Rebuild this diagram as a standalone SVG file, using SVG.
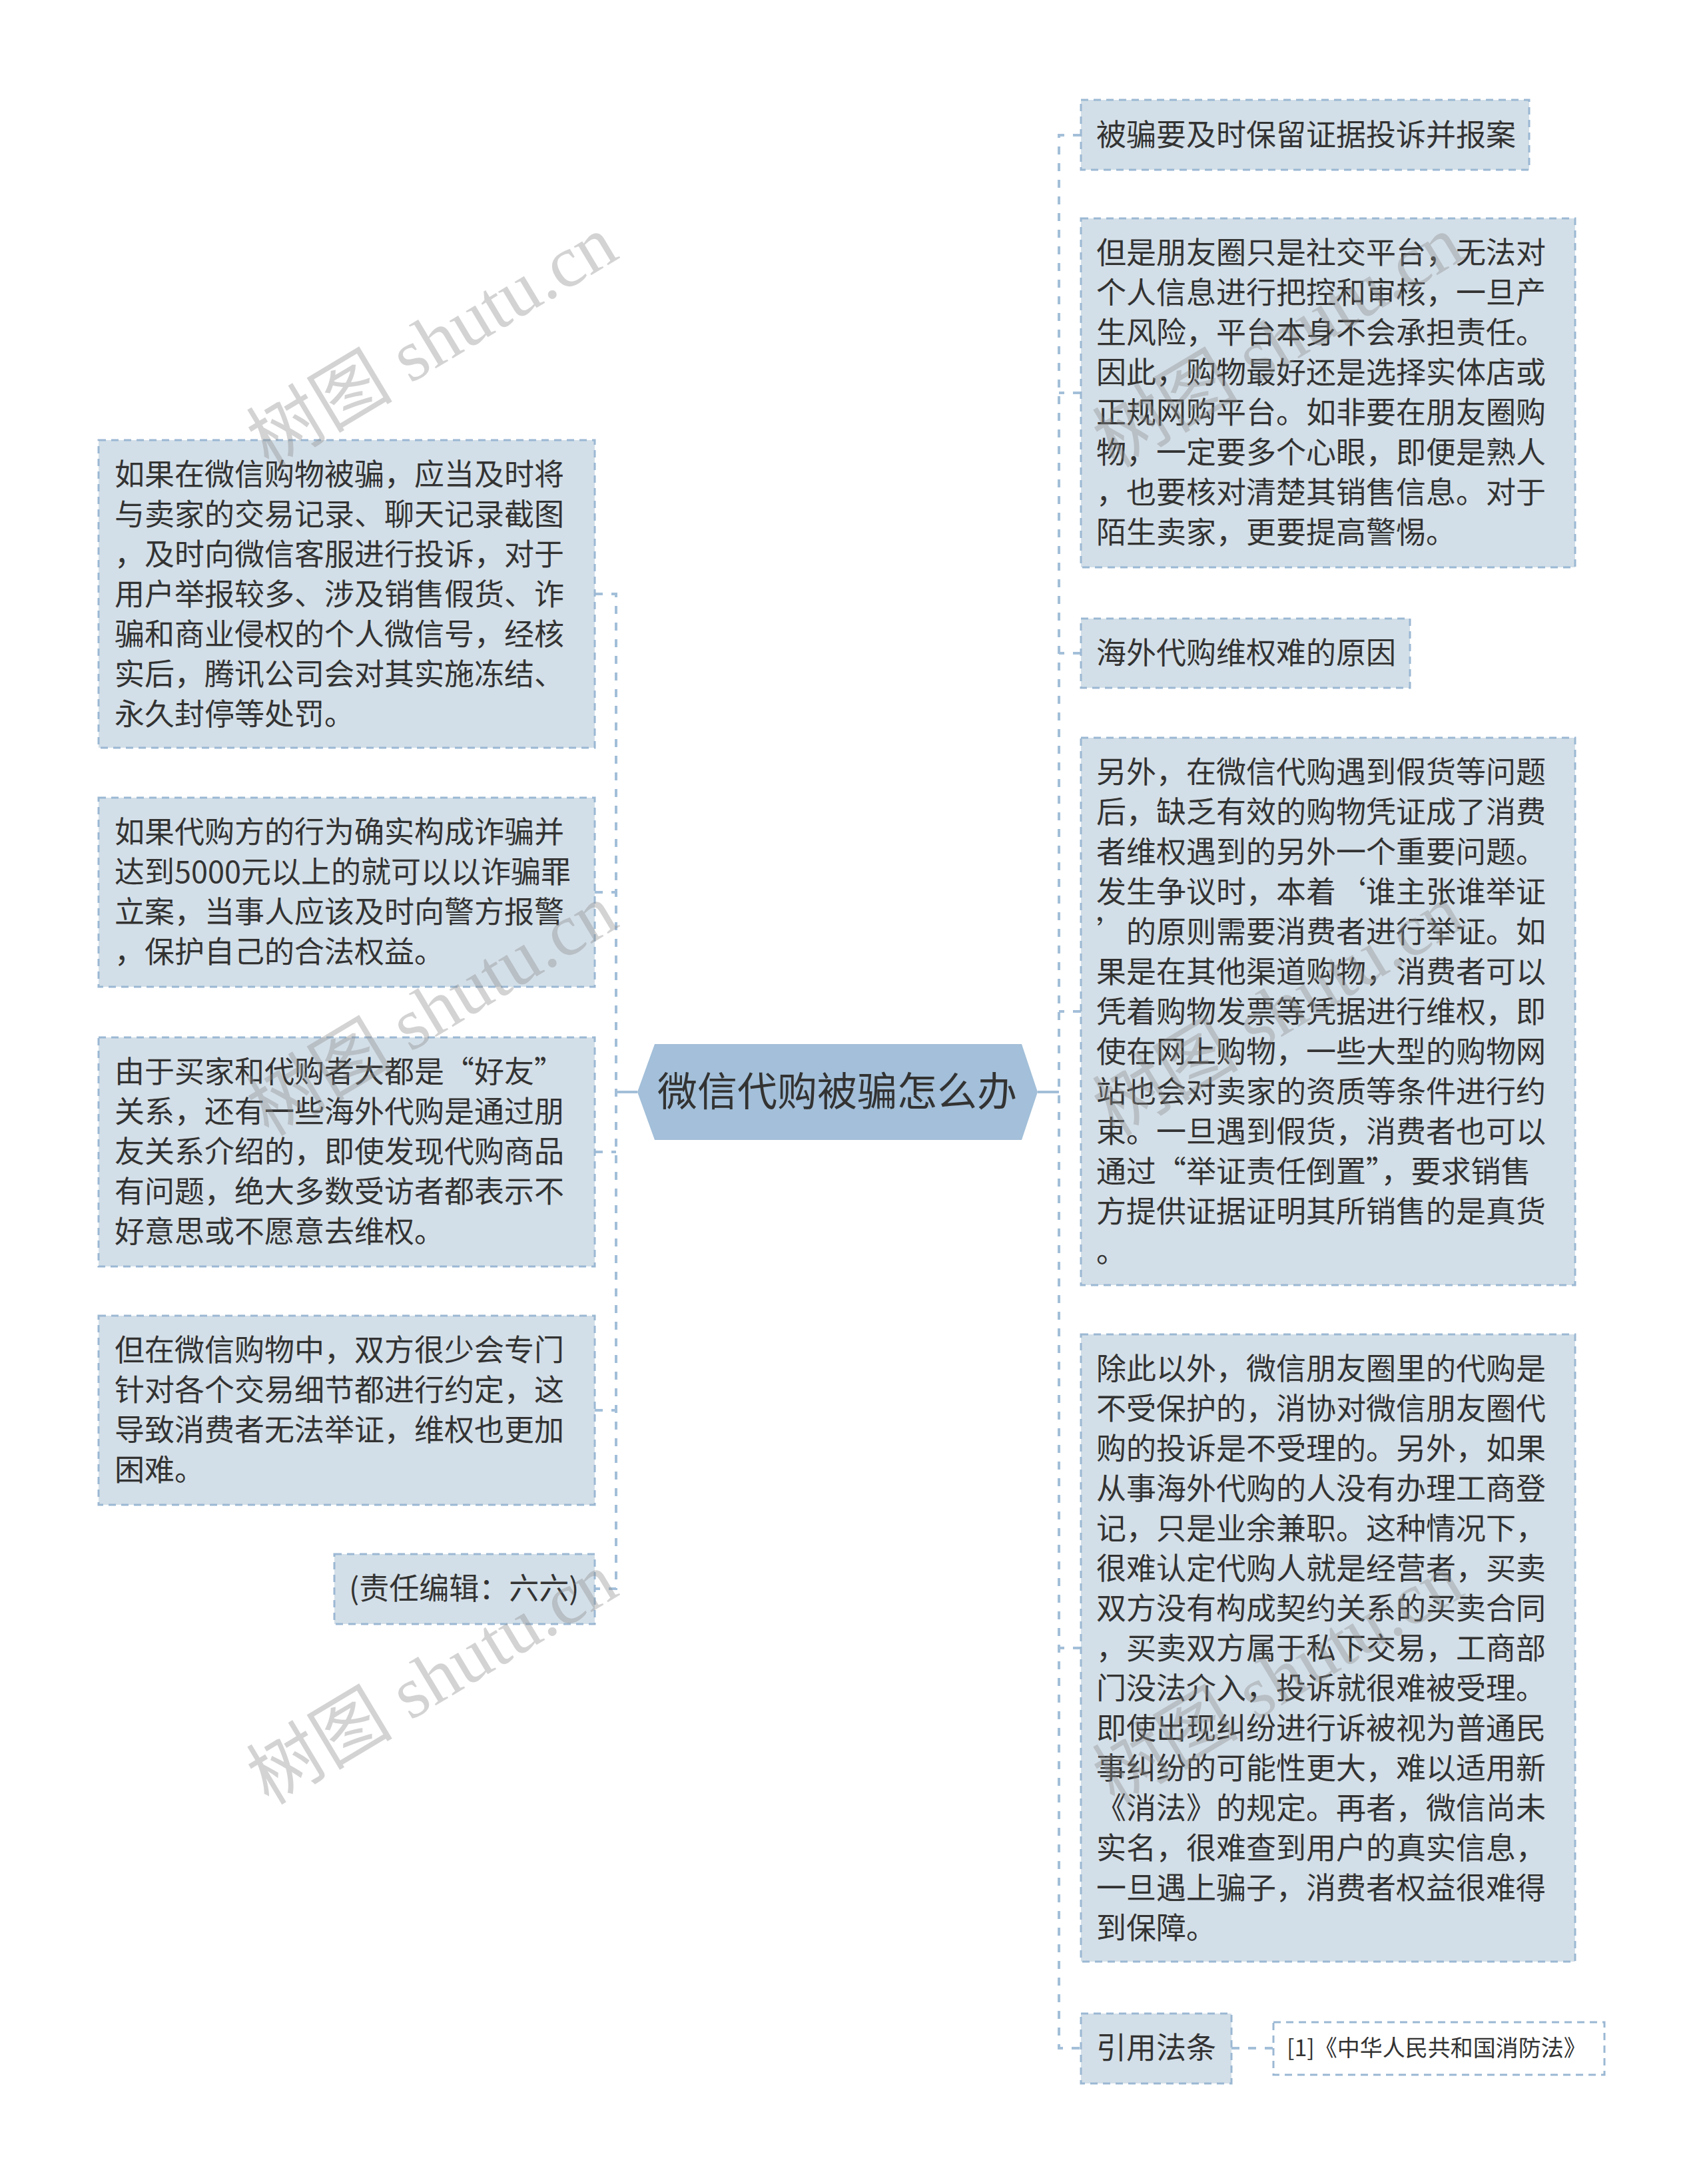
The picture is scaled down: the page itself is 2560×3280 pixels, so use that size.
<svg xmlns="http://www.w3.org/2000/svg" width="2560" height="3280" viewBox="0 0 2560 3280">
<style>
.box{fill:#d3dfe8;stroke:#9bb8d3;stroke-width:3;stroke-dasharray:11 8}
.ref{fill:#ffffff;stroke:#9bb8d3;stroke-width:3;stroke-dasharray:11 8}
.t{font-family:"Noto Sans CJK SC","Noto Sans",sans-serif;font-size:45px;fill:#333333}
.rt{font-family:"Noto Sans CJK SC","Noto Sans",sans-serif;font-size:34px;fill:#333333}
.ct{font-family:"Noto Sans CJK SC","Noto Sans",sans-serif;font-size:60px;fill:#333333}
.ln{fill:none;stroke:#a3bfd9;stroke-width:4;stroke-dasharray:12 13}
.sl{fill:none;stroke:#a3bfd9;stroke-width:4}
.wm{font-family:"Liberation Serif","Noto Sans CJK SC",serif;font-size:110px;fill:#8c8c8c;fill-opacity:0.38}
</style>
<rect width="2560" height="3280" fill="#ffffff"/>
<g id="connectors">
<path class="ln" d="M893,892 H925 V2386 H893"/>
<path class="ln" d="M893,1340 H925"/>
<path class="ln" d="M893,1730 H925"/>
<path class="ln" d="M893,2118 H925"/>
<path class="sl" d="M925,1640 H957"/>
<path class="ln" d="M1623,203 H1590 V3076 H1623"/>
<path class="ln" d="M1623,590 H1590"/>
<path class="ln" d="M1623,981 H1590"/>
<path class="ln" d="M1623,1519 H1590"/>
<path class="ln" d="M1623,2475 H1590"/>
<path class="sl" d="M1558,1640 H1590"/>
<path class="ln" d="M1849,3076 H1912"/>
</g>
<g id="center">
<polygon points="957,1640 983,1568 1534,1568 1558,1640 1534,1712 983,1712" fill="#a3bfd9"/>
<text class="ct" x="1257" y="1661" text-anchor="middle">微信代购被骗怎么办</text>
</g>
<g id="r1">
<rect class="box" x="1623" y="150" width="673" height="105"/>
<text class="t" x="1646" y="219">被骗要及时保留证据投诉并报案</text>
</g>
<g id="r2">
<rect class="box" x="1623" y="328" width="742" height="524"/>
<text class="t" x="1646" y="396"><tspan x="1646">但是朋友圈只是社交平台，无法对</tspan><tspan x="1646" dy="60">个人信息进行把控和审核，一旦产</tspan><tspan x="1646" dy="60">生风险，平台本身不会承担责任。</tspan><tspan x="1646" dy="60">因此，购物最好还是选择实体店或</tspan><tspan x="1646" dy="60">正规网购平台。如非要在朋友圈购</tspan><tspan x="1646" dy="60">物，一定要多个心眼，即便是熟人</tspan><tspan x="1646" dy="60">，也要核对清楚其销售信息。对于</tspan><tspan x="1646" dy="60">陌生卖家，更要提高警惕。</tspan></text>
</g>
<g id="r3">
<rect class="box" x="1623" y="929" width="494" height="104"/>
<text class="t" x="1646" y="997">海外代购维权难的原因</text>
</g>
<g id="r4">
<rect class="box" x="1623" y="1108" width="742" height="822"/>
<text class="t" x="1646" y="1176"><tspan x="1646">另外，在微信代购遇到假货等问题</tspan><tspan x="1646" dy="60">后，缺乏有效的购物凭证成了消费</tspan><tspan x="1646" dy="60">者维权遇到的另外一个重要问题。</tspan><tspan x="1646" dy="60">发生争议时，本着‘谁主张谁举证</tspan><tspan x="1646" dy="60">’的原则需要消费者进行举证。如</tspan><tspan x="1646" dy="60">果是在其他渠道购物，消费者可以</tspan><tspan x="1646" dy="60">凭着购物发票等凭据进行维权，即</tspan><tspan x="1646" dy="60">使在网上购物，一些大型的购物网</tspan><tspan x="1646" dy="60">站也会对卖家的资质等条件进行约</tspan><tspan x="1646" dy="60">束。一旦遇到假货，消费者也可以</tspan><tspan x="1646" dy="60">通过“举证责任倒置”，要求销售</tspan><tspan x="1646" dy="60">方提供证据证明其所销售的是真货</tspan><tspan x="1646" dy="60">。</tspan></text>
</g>
<g id="r5">
<rect class="box" x="1623" y="2004" width="742" height="942"/>
<text class="t" x="1646" y="2072"><tspan x="1646">除此以外，微信朋友圈里的代购是</tspan><tspan x="1646" dy="60">不受保护的，消协对微信朋友圈代</tspan><tspan x="1646" dy="60">购的投诉是不受理的。另外，如果</tspan><tspan x="1646" dy="60">从事海外代购的人没有办理工商登</tspan><tspan x="1646" dy="60">记，只是业余兼职。这种情况下，</tspan><tspan x="1646" dy="60">很难认定代购人就是经营者，买卖</tspan><tspan x="1646" dy="60">双方没有构成契约关系的买卖合同</tspan><tspan x="1646" dy="60">，买卖双方属于私下交易，工商部</tspan><tspan x="1646" dy="60">门没法介入，投诉就很难被受理。</tspan><tspan x="1646" dy="60">即使出现纠纷进行诉被视为普通民</tspan><tspan x="1646" dy="60">事纠纷的可能性更大，难以适用新</tspan><tspan x="1646" dy="60">《消法》的规定。再者，微信尚未</tspan><tspan x="1646" dy="60">实名，很难查到用户的真实信息，</tspan><tspan x="1646" dy="60">一旦遇上骗子，消费者权益很难得</tspan><tspan x="1646" dy="60">到保障。</tspan></text>
</g>
<g id="r6">
<rect class="box" x="1623" y="3024" width="226" height="105"/>
<text class="t" x="1646" y="3092">引用法条</text>
</g>
<g id="r7">
<rect class="ref" x="1912" y="3037" width="497" height="79"/>
<text class="rt" x="1932" y="3088">[1]《中华人民共和国消防法》</text>
</g>
<g id="l1">
<rect class="box" x="148" y="661" width="745" height="462"/>
<text class="t" x="172" y="729"><tspan x="172">如果在微信购物被骗，应当及时将</tspan><tspan x="172" dy="60">与卖家的交易记录、聊天记录截图</tspan><tspan x="172" dy="60">，及时向微信客服进行投诉，对于</tspan><tspan x="172" dy="60">用户举报较多、涉及销售假货、诈</tspan><tspan x="172" dy="60">骗和商业侵权的个人微信号，经核</tspan><tspan x="172" dy="60">实后，腾讯公司会对其实施冻结、</tspan><tspan x="172" dy="60">永久封停等处罚。</tspan></text>
</g>
<g id="l2">
<rect class="box" x="148" y="1198" width="745" height="284"/>
<text class="t" x="172" y="1266"><tspan x="172">如果代购方的行为确实构成诈骗并</tspan><tspan x="172" dy="60">达到5000元以上的就可以以诈骗罪</tspan><tspan x="172" dy="60">立案，当事人应该及时向警方报警</tspan><tspan x="172" dy="60">，保护自己的合法权益。</tspan></text>
</g>
<g id="l3">
<rect class="box" x="148" y="1558" width="745" height="344"/>
<text class="t" x="172" y="1626"><tspan x="172">由于买家和代购者大都是“好友”</tspan><tspan x="172" dy="60">关系，还有一些海外代购是通过朋</tspan><tspan x="172" dy="60">友关系介绍的，即使发现代购商品</tspan><tspan x="172" dy="60">有问题，绝大多数受访者都表示不</tspan><tspan x="172" dy="60">好意思或不愿意去维权。</tspan></text>
</g>
<g id="l4">
<rect class="box" x="148" y="1976" width="745" height="284"/>
<text class="t" x="172" y="2044"><tspan x="172">但在微信购物中，双方很少会专门</tspan><tspan x="172" dy="60">针对各个交易细节都进行约定，这</tspan><tspan x="172" dy="60">导致消费者无法举证，维权也更加</tspan><tspan x="172" dy="60">困难。</tspan></text>
</g>
<g id="l5">
<rect class="box" x="502" y="2334" width="391" height="105"/>
<text class="t" x="524" y="2402">(责任编辑：六六)</text>
</g>
<g id="watermarks">
<text class="wm" x="650" y="550" text-anchor="middle" transform="rotate(-31 650 515)">树图 shutu.cn</text>
<text class="wm" x="650" y="1554" text-anchor="middle" transform="rotate(-31 650 1519)">树图 shutu.cn</text>
<text class="wm" x="650" y="2558" text-anchor="middle" transform="rotate(-31 650 2523)">树图 shutu.cn</text>
<text class="wm" x="1920" y="550" text-anchor="middle" transform="rotate(-31 1920 515)">树图 shutu.cn</text>
<text class="wm" x="1920" y="1554" text-anchor="middle" transform="rotate(-31 1920 1519)">树图 shutu.cn</text>
<text class="wm" x="1920" y="2558" text-anchor="middle" transform="rotate(-31 1920 2523)">树图 shutu.cn</text>
</g>
</svg>
